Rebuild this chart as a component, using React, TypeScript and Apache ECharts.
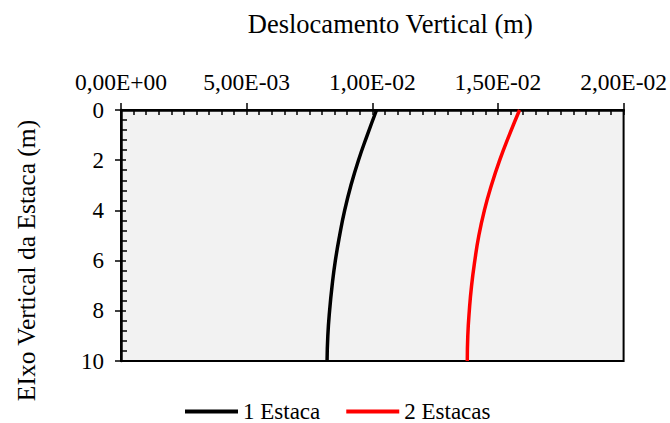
import React, { useEffect, useRef } from "react";
import * as echarts from "echarts";

const depths = [0, 1, 2, 3, 4, 5, 6, 7, 8, 9, 10];
const oneEstaca = [0.01017, 0.0098, 0.00945, 0.00915, 0.0089, 0.0087, 0.00853, 0.0084, 0.0083, 0.00823, 0.0082];
const twoEstacas = [0.01586, 0.01545, 0.01507, 0.01474, 0.01446, 0.01424, 0.01408, 0.01395, 0.01386, 0.0138, 0.01378];
const seriesNames = ["1 Estaca", "2 Estacas"];
const xTitle = "Deslocamento Vertical (m)";
const yTitle = "EIxo Vertical da Estaca (m)";

const FONT = "Liberation Serif";

function fmtSci(v: number): string {
  if (v === 0) return "0,00E+00";
  const s = v.toExponential(2); // e.g. 5.00e-3
  const [m, e] = s.split("e");
  const ev = parseInt(e, 10);
  const sign = ev < 0 ? "-" : "+";
  const abs = Math.abs(ev);
  return m.replace(".", ",") + "E" + sign + (abs < 10 ? "0" + abs : String(abs));
}

export default function App() {
  const ref = useRef<HTMLDivElement>(null);
  useEffect(() => {
    if (!ref.current) return;
    const chart = echarts.init(ref.current, null, { renderer: "svg" });
    const textBase = { fontFamily: FONT, color: "#000" };
    const xCommon = {
      type: "value" as const,
      position: "top" as const,
      min: 0,
      max: 0.02,
      interval: 0.005,
      splitLine: { show: false },
    };
    const yCommon = {
      type: "value" as const,
      position: "left" as const,
      inverse: true,
      min: 0,
      max: 10,
      interval: 2,
      splitLine: { show: false },
    };
    chart.setOption({
      animation: false,
      textStyle: { fontFamily: FONT },
      grid: {
        left: 121,
        right: 45,
        top: 110,
        bottom: 62,
        containLabel: false,
        show: true,
        backgroundColor: "#f2f2f2",
        borderColor: "#000",
        borderWidth: 2,
      },
      xAxis: [
        {
          ...xCommon,
          name: xTitle,
          nameLocation: "middle",
          nameGap: 73,
          nameTextStyle: { ...textBase, fontSize: 26.5, padding: [0, 0, 0, 36] },
          axisLine: { show: true, lineStyle: { color: "#000", width: 2.5 } },
          axisTick: { show: true, inside: false, length: 7, lineStyle: { color: "#000", width: 1.5 } },
          axisLabel: { ...textBase, fontSize: 23.5, margin: 16, formatter: (v: number) => fmtSci(v) },
        },
        {
          ...xCommon,
          axisLine: { show: false },
          axisTick: { show: true, inside: true, length: 5, lineStyle: { color: "#000", width: 1.5 } },
          minorTick: { show: true, splitNumber: 10, length: 5, lineStyle: { color: "#000", width: 1.5 } },
          axisLabel: { show: false },
        },
      ],
      yAxis: [
        {
          ...yCommon,
          name: yTitle,
          nameLocation: "middle",
          nameGap: 82,
          nameTextStyle: { ...textBase, fontSize: 25.5, padding: [0, 50, 0, 0] },
          axisLine: { show: true, lineStyle: { color: "#000", width: 2.5 } },
          axisTick: { show: true, inside: false, length: 6, lineStyle: { color: "#000", width: 1.5 } },
          axisLabel: { ...textBase, fontSize: 23, margin: 17 },
        },
        {
          ...yCommon,
          axisLine: { show: false },
          axisTick: { show: true, inside: true, length: 5, lineStyle: { color: "#000", width: 1.5 } },
          minorTick: { show: true, splitNumber: 5, length: 6, lineStyle: { color: "#000", width: 1.5 } },
          axisLabel: { show: false },
        },
      ],
      legend: {
        left: 185,
        top: 400,
        padding: 0,
        itemWidth: 53,
        itemHeight: 4,
        itemGap: 26,
        icon: "rect",
        textStyle: { ...textBase, fontSize: 23, lineHeight: 22, padding: [0, 0, 0, 0] },
        data: seriesNames,
      },
      series: [
        {
          name: seriesNames[0],
          type: "line",
          xAxisIndex: 0,
          yAxisIndex: 0,
          smooth: true,
          showSymbol: false,
          symbol: "none",
          lineStyle: { color: "#000", width: 3.5 },
          itemStyle: { color: "#000" },
          data: depths.map((d, i) => [oneEstaca[i], d]),
        },
        {
          name: seriesNames[1],
          type: "line",
          xAxisIndex: 0,
          yAxisIndex: 0,
          smooth: true,
          showSymbol: false,
          symbol: "none",
          lineStyle: { color: "#ff0000", width: 3.5 },
          itemStyle: { color: "#ff0000" },
          data: depths.map((d, i) => [twoEstacas[i], d]),
        },
      ],
    });
    return () => chart.dispose();
  }, []);
  return <div ref={ref} style={{ width: 670, height: 423, position: "absolute", left: 0, top: 0 }} />;
}
